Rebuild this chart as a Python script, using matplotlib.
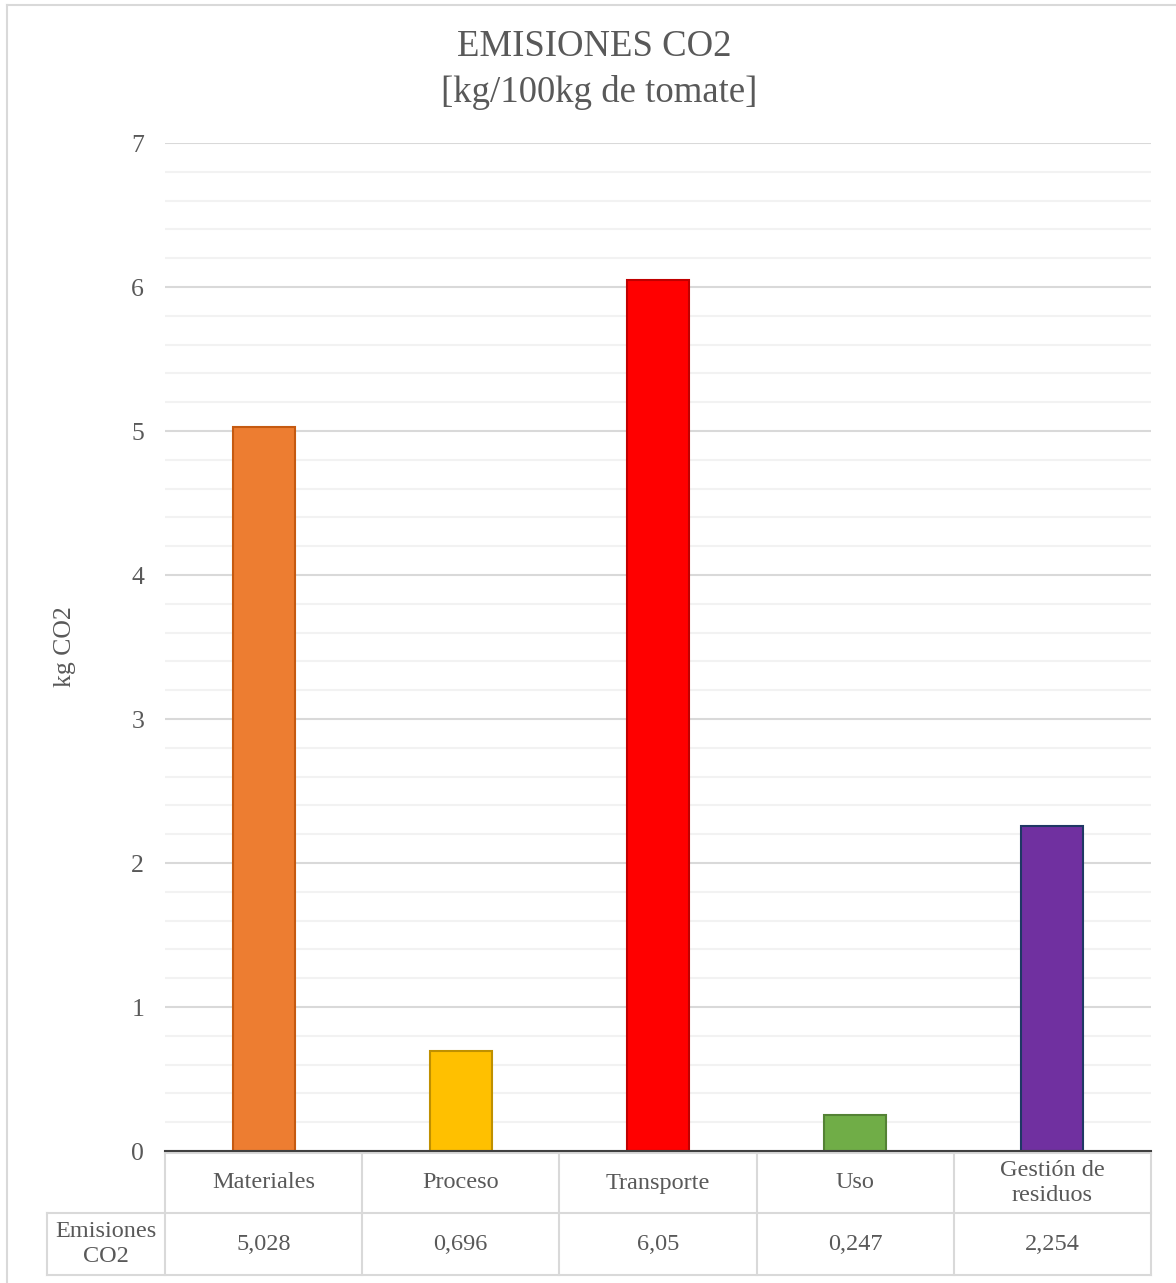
import matplotlib.pyplot as plt
import matplotlib.transforms as mtransforms
from matplotlib.lines import Line2D
from matplotlib.ticker import MultipleLocator

plt.rcParams['font.family'] = ['Liberation Serif', 'DejaVu Serif']

etapas = ["Materiales", "Proceso", "Transporte", "Uso", "Gestión de\nresiduos"]
emisiones = [5.028, 0.696, 6.05, 0.247, 2.254]
etiquetas = ["5,028", "0,696", "6,05", "0,247", "2,254"]
relleno = ["#ED7D31", "#FFC000", "#FF0000", "#70AD47", "#7030A0"]
borde = ["#C55A11", "#BF9000", "#C00000", "#548235", "#1F3864"]

TXT = "#595959"
GRID_MAJ = "#d9d9d9"
GRID_MIN = "#f2f2f2"
FS = 17.5

fig = plt.figure(figsize=(11.76, 12.83), dpi=100)
ax = fig.add_axes([165 / 1176, 1 - 1151 / 1283, 986 / 1176, 1008 / 1283])

x = list(range(len(etapas)))
ax.bar(x, emisiones, width=0.315, color=relleno, edgecolor=borde, linewidth=1.5, zorder=3)

ax.set_xlim(-0.5, len(etapas) - 0.5)
ax.set_ylim(0, 7)
ax.yaxis.set_major_locator(MultipleLocator(1))
ax.yaxis.set_minor_locator(MultipleLocator(0.2))
ax.grid(axis="y", which="major", color=GRID_MAJ, lw=1.5, zorder=0)
ax.grid(axis="y", which="minor", color=GRID_MIN, lw=1.5, zorder=0)
ax.tick_params(axis="y", which="both", length=0, labelsize=18.5, labelcolor=TXT, pad=15)
ax.tick_params(axis="x", which="both", length=0, labelbottom=False)
for s in ["top", "right", "left"]:
    ax.spines[s].set_visible(False)
ax.spines["bottom"].set_color("#404040")
ax.spines["bottom"].set_linewidth(1.5)
ax.spines["bottom"].set_zorder(4)

ax.set_ylabel("kg CO2", fontsize=18.5, color=TXT, labelpad=40)

# data table under the axis
tr = mtransforms.blended_transform_factory(ax.transData, ax.transAxes)
h = 1008.0
y_top = -2 / h
y_mid = -62 / h
y_bot = -124 / h
x_lab = -1.098
x_end = len(etapas) - 0.5

def seg(xs, ys):
    ax.add_line(Line2D(xs, ys, transform=tr, color=GRID_MAJ, lw=1.5, clip_on=False))

seg([-0.5, x_end], [y_top, y_top])
seg([x_lab, x_end], [y_mid, y_mid])
seg([x_lab, x_end], [y_bot, y_bot])
seg([x_lab, x_lab], [y_mid, y_bot])
for b in range(len(etapas) + 1):
    seg([b - 0.5, b - 0.5], [y_top, y_bot])

for i, (cat, lab) in enumerate(zip(etapas, etiquetas)):
    ax.text(i, (y_top + y_mid) / 2, cat, transform=tr, ha="center", va="center",
            fontsize=FS, color=TXT, linespacing=1.25)
    ax.text(i, (y_mid + y_bot) / 2, lab, transform=tr, ha="center", va="center",
            fontsize=FS, color=TXT)
ax.text((x_lab - 0.5) / 2, (y_mid + y_bot) / 2, "Emisiones\nCO2", transform=tr,
        ha="center", va="center", fontsize=FS, color=TXT, linespacing=1.25)

fig.text(594 / 1176, 1 - 47 / 1283, "EMISIONES CO2", ha="center", va="center",
         fontsize=26.5, color=TXT)
fig.text(599 / 1176, 1 - 92 / 1283, "[kg/100kg de tomate]", ha="center", va="center",
         fontsize=26.5, color=TXT)

# chart frame
fig.add_artist(Line2D([7 / 1176, 7 / 1176], [0, 1 - 5 / 1283], transform=fig.transFigure,
                      color=GRID_MAJ, lw=1.5))
fig.add_artist(Line2D([7 / 1176, 1], [1 - 5 / 1283, 1 - 5 / 1283], transform=fig.transFigure,
                      color=GRID_MAJ, lw=1.5))

fig.savefig("out.png", dpi=100)
